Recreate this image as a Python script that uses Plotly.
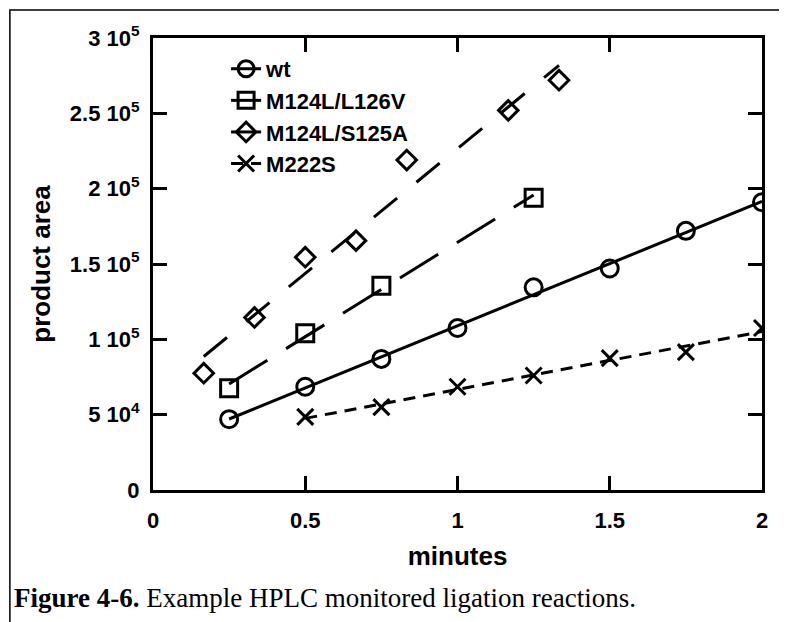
import numpy as np
import plotly.graph_objects as go

# data (minutes, product area)
wt_x = [0.25, 0.5, 0.75, 1.0, 1.25, 1.5, 1.75, 2.0]
wt_y = [47000, 68500, 87000, 107500, 134500, 147000, 172000, 191000]

l126v_x = [0.25, 0.5, 0.75, 1.25]
l126v_y = [67500, 104000, 135500, 194000]

s125a_x = [1/6, 1/3, 1/2, 2/3, 5/6, 7/6, 4/3]
s125a_y = [77500, 114500, 154500, 165500, 219000, 252000, 272000]

m222s_x = [0.5, 0.75, 1.0, 1.25, 1.5, 1.75, 2.0]
m222s_y = [48500, 55000, 68500, 76000, 87500, 91500, 107500]

y_ticks = [0, 50000, 100000, 150000, 200000, 250000, 300000]
y_ticktext = ['0', '5 10<sup>4</sup>', '1 10<sup>5</sup>', '1.5 10<sup>5</sup>',
              '2 10<sup>5</sup>', '2.5 10<sup>5</sup>', '3 10<sup>5</sup>']
x_ticks = [0, 0.5, 1, 1.5, 2]
x_ticktext = ['0', '0.5', '1', '1.5', '2']

series = [
    ('wt', wt_x, wt_y, 'solid', 'circle-open', 17),
    ('M124L/L126V', l126v_x, l126v_y, '45px,22px', 'square-open', 17),
    ('M124L/S125A', s125a_x, s125a_y, '30px,25px', 'diamond-open', 15),
    ('M222S', m222s_x, m222s_y, '12px,8px', 'x-thin-open', 16),
]

fig = go.Figure()
for name, xs, ys, dash, sym, size in series:
    line = dict(color='black', width=3, dash=dash)
    marker = dict(symbol=sym, size=size, color='black',
                  line=dict(color='black', width=3))
    # straight line fit through each series, as in the original
    k, b = np.polyfit(xs, ys, 1)
    fx = np.array([min(xs), max(xs)])
    fig.add_trace(go.Scatter(x=fx, y=k*fx + b, mode='lines', showlegend=False,
                             line=line, legendgroup=name))
    fig.add_trace(go.Scatter(x=xs, y=ys, mode='markers', showlegend=False,
                             marker=marker, legendgroup=name))
    # legend entry only (line + marker sample)
    fig.add_trace(go.Scatter(x=[None], y=[None], mode='lines+markers', name=name,
                             line=line, marker=marker, legendgroup=name))

font = dict(family='Liberation Sans, Arial, sans-serif', color='black')

fig.update_layout(
    width=787, height=622,
    margin=dict(l=145, r=33, t=30, b=140),
    paper_bgcolor='white', plot_bgcolor='white',
    font=dict(size=22, weight='bold', **font),
    showlegend=True,
    legend=dict(x=0.12, y=0.978, xanchor='left', yanchor='top',
                bgcolor='rgba(0,0,0,0)', font=dict(size=22, weight='bold', **font),
                tracegroupgap=0),
    xaxis=dict(range=[0, 2], tickvals=x_ticks, ticktext=x_ticktext,
               showgrid=False, zeroline=False, showline=True, linecolor='black',
               linewidth=3, mirror='ticks', ticks='inside', ticklen=14,
               tickwidth=3, tickcolor='black', ticklabelstandoff=9,
               title=dict(text='minutes', font=dict(size=26, weight='bold', **font),
                          standoff=15)),
    yaxis=dict(range=[0, 300000], tickvals=y_ticks, ticktext=y_ticktext,
               showgrid=False, zeroline=False, showline=True, linecolor='black',
               linewidth=3, mirror='ticks', ticks='inside', ticklen=14,
               tickwidth=3, tickcolor='black', ticklabelstandoff=6,
               title=dict(text='product area', font=dict(size=26, weight='bold', **font),
                          standoff=12)),
)

# outer frame of the scanned figure
fig.add_shape(type='rect', xref='paper', yref='paper',
              x0=-0.235, x1=1.052, y0=-0.4, y1=1.062,
              line=dict(color='black', width=1.5))

fig.add_annotation(xref='paper', yref='paper', x=-0.231, y=-0.239,
                   xanchor='left', yanchor='middle', showarrow=False,
                   text='<b>Figure 4-6.</b> Example HPLC monitored ligation reactions.',
                   font=dict(family='Liberation Serif, Times New Roman, serif',
                             size=27, weight='normal', color='black'))

fig.write_html('out.html')
